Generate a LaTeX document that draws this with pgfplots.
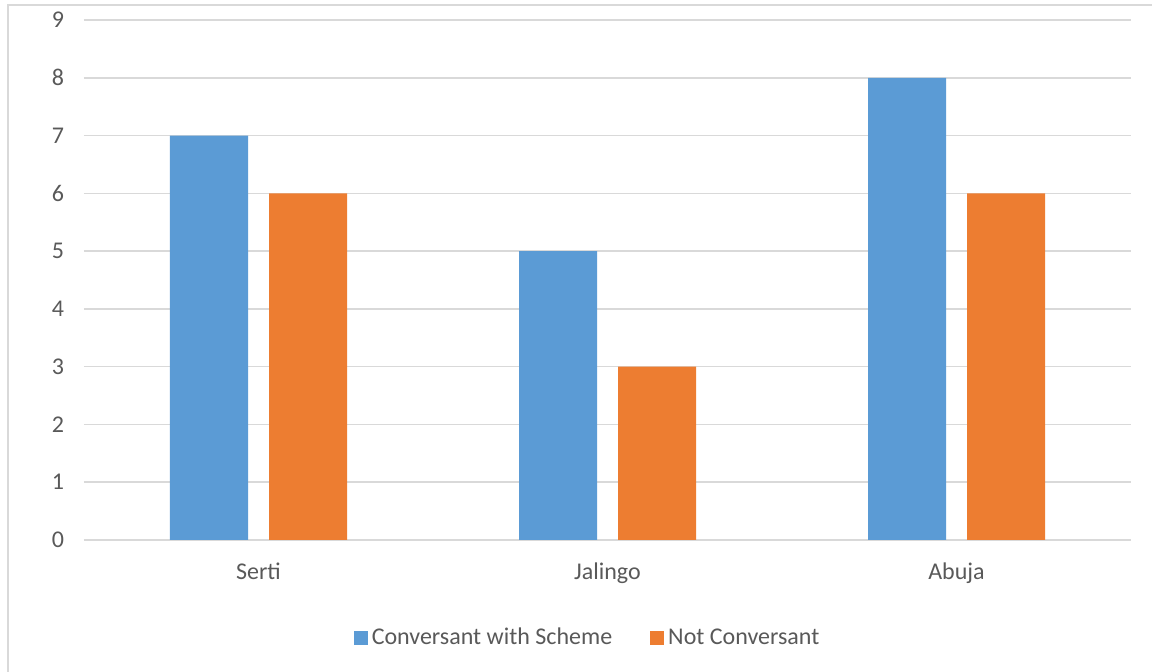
\documentclass[border=0pt]{standalone}
\usepackage{fontspec}
\setmainfont{Carlito}
\usepackage{pgfplots}
\pgfplotsset{compat=1.18}
\definecolor{cblue}{HTML}{5B9BD5}
\definecolor{corange}{HTML}{ED7D31}
\definecolor{ctext}{HTML}{595959}
\definecolor{cgrid}{HTML}{D9D9D9}
\begin{document}
\begin{tikzpicture}
\useasboundingbox (0,0) rectangle (576pt,336pt);
\draw[cgrid, line width=1pt] (4pt,-10pt) rectangle (600pt,333.5pt);
\begin{axis}[
  at={(42pt,66pt)}, anchor=south west, scale only axis,
  width=523.5pt, height=260pt,
  ybar=10.5pt, bar width=39pt,
  xmin=-0.5, xmax=2.5, ymin=0, ymax=9,
  xtick=data, xticklabels={Serti,Jalingo,Abuja},
  ytick={0,1,2,3,4,5,6,7,8,9},
  ymajorgrids, grid style={cgrid, line width=0.8pt},
  axis line style={draw=none},
  major tick length=0pt,
  tick label style={font=\fontsize{12}{14.5}\selectfont, text=ctext},
  /pgf/number format/assume math mode=true,
  yticklabel style={xshift=-6.5pt},
  xticklabel style={yshift=-8pt},
  legend columns=2,
  legend style={at={(0.4819,-0.1885)}, anchor=center, draw=none,
    font=\fontsize{12}{14.5}\selectfont, text=ctext,
    /tikz/every even column/.append style={column sep=17pt}},
  legend image code/.code={\fill[#1] (-1pt,-3.5pt) rectangle (6pt,3.5pt);},
]
\addplot[fill=cblue, draw=none] coordinates {(0,7) (1,5) (2,8)};
\addplot[fill=corange, draw=none] coordinates {(0,6) (1,3) (2,6)};
\legend{Conversant with Scheme, Not Conversant}
\end{axis}
\end{tikzpicture}
\end{document}
